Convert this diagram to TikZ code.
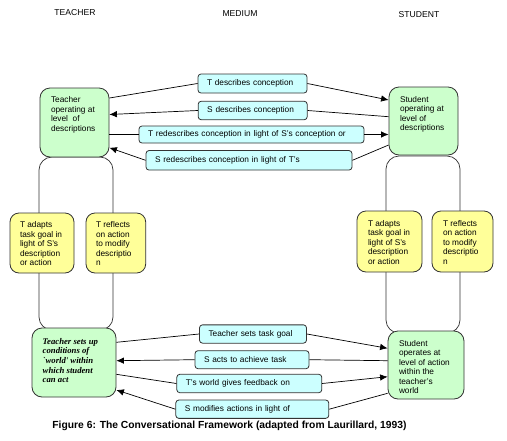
\documentclass[tikz,border=0pt]{standalone}
\usepackage{fontspec}
\setmainfont{Liberation Sans}
\newfontfamily\timesbi{Liberation Serif}
\usetikzlibrary{arrows.meta}

\definecolor{descgreen}{HTML}{CCFFCC}
\definecolor{mediumcyan}{HTML}{CCFFFF}
\definecolor{adaptyellow}{HTML}{FFFF99}
\definecolor{edgegrey}{HTML}{333333}

% text at the top left of a box: width, height, lines
\newcommand{\boxtext}[3]{\parbox[t][#2][t]{#1}{\raggedright #3}}

\tikzset{
    every node/.style={font=\fontsize{8.3}{9.5}\selectfont},
    greenbox/.style={draw=edgegrey, fill=descgreen, rounded corners=10pt, line width=0.8pt},
    yellowbox/.style={draw=edgegrey, fill=adaptyellow, rounded corners=9pt, line width=0.8pt},
    mediumbox/.style={draw=edgegrey, fill=mediumcyan, rounded corners=3pt, line width=0.8pt,
        inner xsep=9pt, inner ysep=0pt, align=left},
    loopline/.style={draw=edgegrey, line width=0.7pt, rounded corners=13pt},
    head/.style={font=\fontsize{8.6}{9}\selectfont},
    link/.style={line width=0.7pt, >={Latex[length=7.5pt,width=6.5pt]}}
}

\begin{document}
\begin{tikzpicture}[x=1pt, y=-1pt]
    \useasboundingbox (0,0) rectangle (507,440);

    % column heads
    \node[head] (teacherHead) at (75,13) {TEACHER};
    \node[head] (mediumHead) at (240,14) {MEDIUM};
    \node[head] (studentHead) at (419,15) {STUDENT};

    % the two loops behind the boxes
    \foreach \xl/\xr/\yt/\yb in {39/113/157/330, 386/460/156/333}
    {
      \draw[loopline] (\xl,\yt) rectangle (\xr,\yb);
    }

    % teacher and student
    \node[greenbox, inner xsep=11pt, inner ysep=8.5pt] (tDesc) at (74.5,122.5)
        {\boxtext{47pt}{52pt}{Teacher\\operating at\\level\ \ of\\descriptions}};
    \node[greenbox, inner xsep=11pt, inner ysep=9pt] (sDesc) at (423.5,121)
        {\boxtext{47pt}{50pt}{Student\\operating at\\level of\\descriptions}};
    \node[greenbox, inner xsep=10.7pt, inner ysep=10pt] (tAct) at (74,362.5)
        {\boxtext{62.6pt}{49pt}{\timesbi\bfseries\itshape\fontsize{8.7}{9.7}\selectfont Teacher sets up\\conditions of\\`world' within\\which student\\can act}};
    \node[greenbox, inner xsep=11pt, inner ysep=9pt] (sAct) at (426,365)
        {\boxtext{54pt}{50pt}{Student\\operates at\\level of action\\within the\\teacher's\\world}};

    % adapting and reflecting
    \node[yellowbox, inner xsep=10pt, inner ysep=8.7pt] (tAdaptL) at (42,243)
        {\boxtext{44pt}{42.6pt}{T adapts\\task goal in\\light of S's\\description\\or action}};
    \node[yellowbox, inner xsep=10pt, inner ysep=8.7pt] (tReflectL) at (115.85,243)
        {\boxtext{39.7pt}{42.6pt}{T reflects\\on action\\to modify\\descriptio\\n}};
    \node[yellowbox, inner xsep=11pt, inner ysep=9pt] (tAdaptR) at (389.5,241.5)
        {\boxtext{43pt}{43pt}{T adapts\\task goal in\\light of S's\\description\\or action}};
    \node[yellowbox, inner xsep=11pt, inner ysep=9pt] (tReflectR) at (462.5,241.5)
        {\boxtext{39pt}{43pt}{T reflects\\on action\\to modify\\descriptio\\n}};

    % medium, descriptions
    \node[mediumbox, text width=91pt, minimum height=19pt] (tDescribes) at (252.5,83.5) {T describes conception};
    \node[mediumbox, text width=91pt, minimum height=18.5pt] (sDescribes) at (252.7,110.5) {S describes conception};
    \node[mediumbox, text width=207pt, minimum height=17pt] (tRedescribes) at (251.5,134.5) {T redescribes conception in light of S's conception or};
    \node[mediumbox, text width=188pt, minimum height=19.5pt] (sRedescribes) at (249,160.3) {S redescribes conception in light of T's};

    % medium, actions
    \node[mediumbox, text width=89pt, minimum height=18.3pt] (tSets) at (253,334) {Teacher sets task goal};
    \node[mediumbox, text width=96pt, minimum height=18pt] (sActs) at (252,359.7) {S acts to achieve task};
    \node[mediumbox, text width=127pt, minimum height=18.4pt] (tFeedback) at (249.3,383.5) {T's world gives feedback on};
    \node[mediumbox, text width=135pt, minimum height=18.3pt] (sModifies) at (252.3,409.2) {S modifies actions in light of};

    % descriptions
    \draw[link] ([yshift=24.5pt]tDesc.east) -- (tDescribes.west);
    \draw[link,->] (tDescribes.east) -- ([yshift=21pt]sDesc.west);
    \draw[link] ([yshift=4.3pt]sDesc.west) -- (sDescribes.east);
    \draw[link,->] (sDescribes.west) -- ([yshift=8pt]tDesc.east);
    \draw[link] (tRedescribes.west -| tDesc.east) -- (tRedescribes.west);
    \draw[link,->] (tRedescribes.east) -- (tRedescribes.east -| sDesc.west);
    \draw[link] ([yshift=-24pt]sDesc.west) -- (sRedescribes.east);
    \draw[link,->] (sRedescribes.west) -- ([yshift=-25.2pt]tDesc.east);

    % actions
    \draw[link] ([yshift=20.2pt]tAct.east) -- (tSets.west);
    \draw[link,->] (tSets.east) -- ([yshift=16.7pt]sAct.west);
    \draw[link] ([yshift=4.3pt]sAct.west) -- (sActs.east);
    \draw[link,->] (sActs.west) -- ([yshift=1.8pt]tAct.east);
    \draw[link] ([yshift=-11.8pt]tAct.east) -- (tFeedback.west);
    \draw[link,->] (tFeedback.east) -- ([yshift=-11.7pt]sAct.west);
    \draw[link] ([yshift=-28.3pt]sAct.west) -- (sModifies.east);
    \draw[link,->] (sModifies.west) -- ([yshift=-27.5pt]tAct.east);

    \node[font=\bfseries\fontsize{10.3}{12}\selectfont] (caption) at (229.5,425.5)
        {Figure 6: The Conversational Framework (adapted from Laurillard, 1993)};
\end{tikzpicture}
\end{document}
